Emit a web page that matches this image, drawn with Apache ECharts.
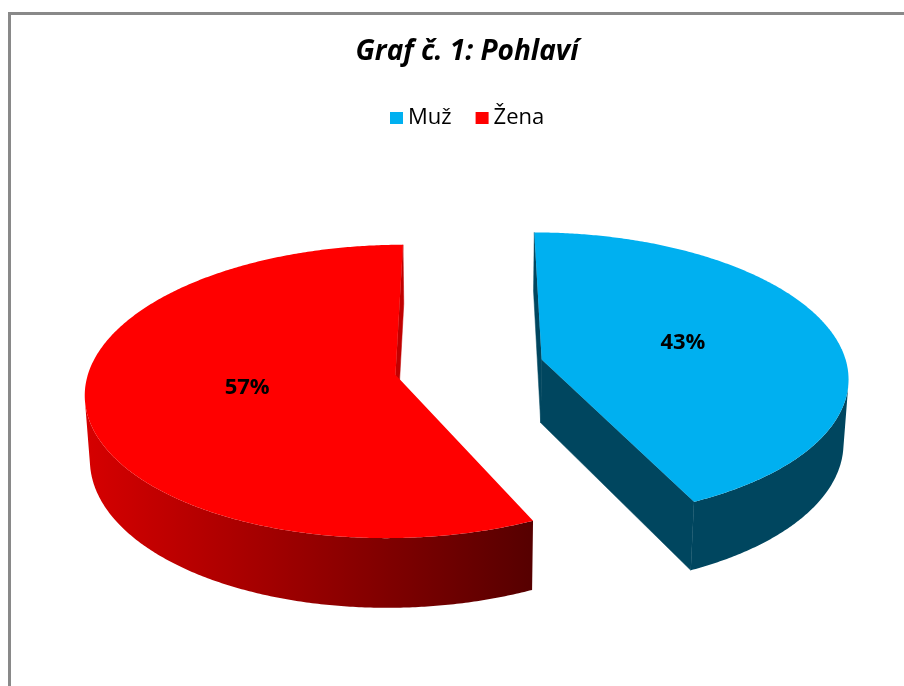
<!DOCTYPE html>
<html><head><meta charset="utf-8">
<script src="https://cdn.jsdelivr.net/npm/echarts@6/dist/echarts.min.js"></script>
<style>html,body{margin:0;padding:0;background:#fff}#c{width:904px;height:686px}</style>
</head><body><div id="c"></div>
<script>
const categories = ['Muž', 'Žena'];
const values = [43, 57];
const titleText = 'Graf č. 1: Pohlaví';

const topColors = ['#00B0F0', '#FF0000'];
const sideColors = [['#00465F', '#00465F'], ['#D60000', '#560000']];
const edgeColors = ['#00465F', '#C00000'];

const total = values.reduce((a, b) => a + b, 0);
const TILT = 27 * Math.PI / 180, SA = Math.sin(TILT), CA = Math.cos(TILT);
const DIST = 7.85, FX = 2400, FY = 2473, OX = 469, OY = 367, HEIGHT = 0.23, EXPLODE = 0.245;
const LABEL_R = 0.485, LABEL_DY = -2;

function proj(X, Y, Z) {
  const yc = Y * CA - Z * SA;
  const zc = DIST - Y * SA - Z * CA;
  return [OX + FX * X / zc, OY - FY * yc / zc];
}
function visible(px, pz, nx, nz) {
  return (0 - px) * nx + (DIST * CA - pz) * nz > 0;
}

function renderSlice(i, value) {
  let cum = 0;
  for (let k = 0; k < i; k++) cum += values[k];
  const a0 = cum / total * 2 * Math.PI, a1 = (cum + value) / total * 2 * Math.PI, am = (a0 + a1) / 2;
  const ox = EXPLODE * Math.sin(am), oz = -EXPLODE * Math.cos(am);
  const rim = (t, Y) => proj(ox + Math.sin(t), Y, oz - Math.cos(t));
  const n = Math.max(8, Math.ceil((a1 - a0) / (Math.PI / 360)));
  const ts = [];
  for (let k = 0; k <= n; k++) ts.push(a0 + (a1 - a0) * k / n);
  const children = [];
  const addRadial = (t, nt) => {
    const nx = Math.sin(nt), nz = -Math.cos(nt);
    if (visible(ox, oz, nx, nz)) {
      children.push({ type: 'polygon', shape: { points: [proj(ox, 0, oz), rim(t, 0), rim(t, -HEIGHT), proj(ox, -HEIGHT, oz)] },
        style: { fill: edgeColors[i], stroke: edgeColors[i], lineWidth: 0.5 } });
    }
  };
  addRadial(a0, a0 - Math.PI / 2);
  addRadial(a1, a1 + Math.PI / 2);
  let run = [];
  const flush = () => {
    if (run.length > 1) {
      const pts = run.map(t => rim(t, 0)).concat(run.slice().reverse().map(t => rim(t, -HEIGHT)));
      children.push({ type: 'polygon', shape: { points: pts },
        style: { fill: new echarts.graphic.LinearGradient(0, 0, 1, 0, [
          { offset: 0, color: sideColors[i][0] }, { offset: 1, color: sideColors[i][1] }]) } });
    }
    run = [];
  };
  ts.forEach(t => {
    const px = ox + Math.sin(t), pz = oz - Math.cos(t);
    if (visible(px, pz, Math.sin(t), -Math.cos(t))) run.push(t); else flush();
  });
  flush();
  const topPts = [proj(ox, 0, oz)].concat(ts.map(t => rim(t, 0)));
  children.push({ type: 'polygon', shape: { points: topPts }, style: { fill: topColors[i] } });
  const lp = proj(ox + LABEL_R * Math.sin(am), 0, oz - LABEL_R * Math.cos(am));
  children.push({ type: 'text', x: lp[0], y: lp[1] + LABEL_DY,
    style: { text: Math.round(value / total * 100) + '%', font: 'bold 22px "Open Sans"', fill: '#000', align: 'center', verticalAlign: 'middle' } });
  return { type: 'group', children };
}

const chart = echarts.init(document.getElementById('c'), null, { renderer: 'canvas' });
chart.setOption({
  backgroundColor: '#fff',
  animation: false,
  title: {
    text: titleText, left: 467, top: 38, padding: 0, textAlign: 'center',
    textStyle: { fontFamily: 'Open Sans', fontStyle: 'italic', fontWeight: 'bold', fontSize: 28, color: '#000' }
  },
  legend: {
    data: categories, left: 390, top: 107, padding: 0,
    icon: 'rect', itemWidth: 13, itemHeight: 12, itemGap: 24,
    textStyle: { fontFamily: 'Open Sans', fontSize: 22, color: '#000' }
  },
  graphic: [{ type: 'rect', shape: { x: 9.5, y: 13.5, width: 2000, height: 2000 }, style: { fill: 'none', stroke: '#898989', lineWidth: 3 }, silent: true }],
  series: categories.map((name, i) => ({
    type: 'custom', name, coordinateSystem: 'none', silent: true,
    itemStyle: { color: topColors[i] },
    data: [values[i]],
    renderItem: (params, api) => renderSlice(i, api.value(0))
  }))
});
</script></body></html>
